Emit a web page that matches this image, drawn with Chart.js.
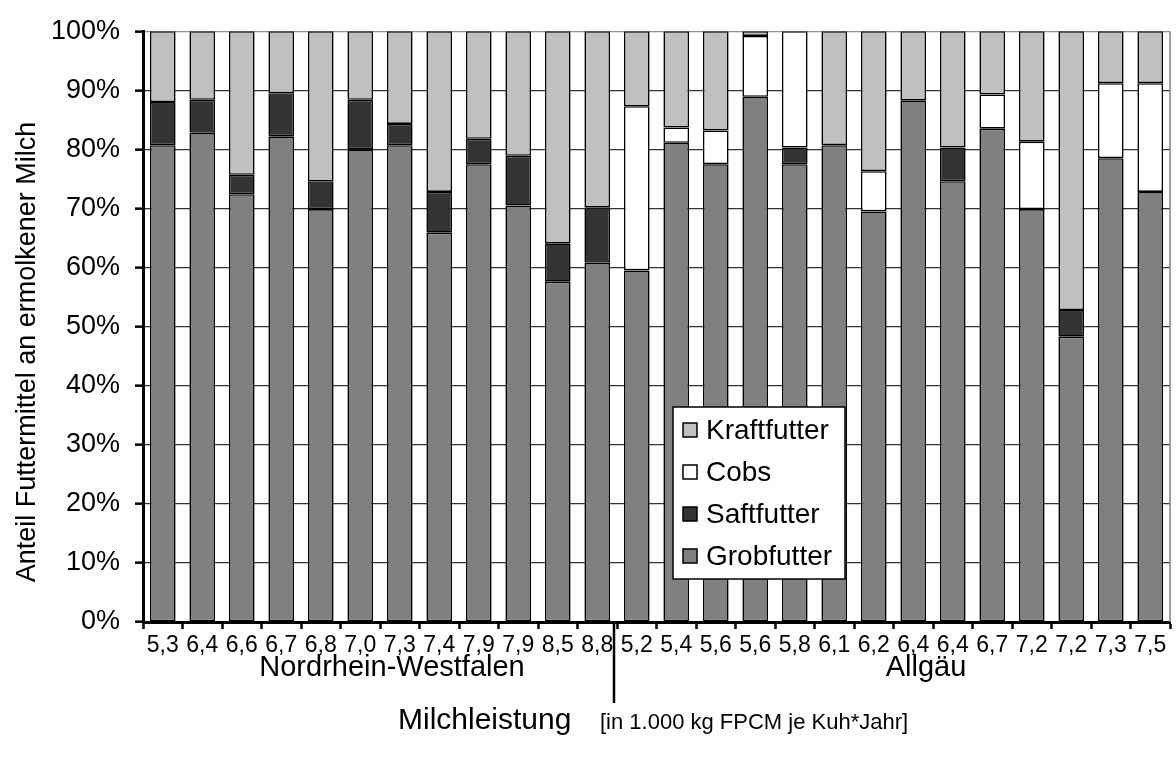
<!DOCTYPE html>
<html>
<head>
<meta charset="utf-8">
<script src="https://cdn.jsdelivr.net/npm/chart.js@4.4.1/dist/chart.umd.min.js"></script>
<style>
  html, body { margin: 0; padding: 0; background: #fff; }
  #wrap { width: 1176px; height: 758px; }
</style>
</head>
<body>
<div id="wrap"><canvas id="chart" width="1176" height="758"></canvas></div>
<script>
// Milchleistung je Betrieb (1.000 kg FPCM), 12 Betriebe NRW + 14 Betriebe Allgäu
let categories = ['5,3', '6,4', '6,6', '6,7', '6,8', '7,0', '7,3', '7,4', '7,9', '7,9', '8,5', '8,8',
                  '5,2', '5,4', '5,6', '5,6', '5,8', '6,1', '6,2', '6,4', '6,4', '6,7', '7,2', '7,2', '7,3', '7,5'];
let groups = ['Nordrhein-Westfalen', 'Allgäu'];
let nrwCount = 12;

// Anteile in %
let grobfutter  = [80.7, 82.8, 72.4, 82.2, 69.9, 80.0, 80.7, 65.9, 77.5, 70.5, 57.6, 60.8,
                   59.5, 81.1, 77.5, 88.9, 77.5, 80.7, 69.5, 88.3, 74.6, 83.5, 69.9, 48.3, 78.5, 72.8];
let saftfutter  = [7.3, 5.6, 3.3, 7.3, 4.7, 8.4, 3.6, 6.9, 4.3, 8.4, 6.5, 9.4,
                   0, 0, 0, 0, 2.8, 0, 0, 0, 5.7, 0, 0, 4.5, 0, 0];
let cobs        = [0, 0, 0, 0, 0, 0, 0, 0, 0, 0, 0, 0,
                   27.8, 2.6, 5.7, 10.3, 19.7, 0, 6.8, 0, 0, 5.8, 11.4, 0, 12.7, 18.4];
let kraftfutter = [12.0, 11.6, 24.3, 10.5, 25.4, 11.6, 15.7, 27.2, 18.2, 21.1, 35.9, 29.8,
                   12.7, 16.3, 16.8, 0.8, 0, 19.3, 23.7, 11.7, 19.7, 10.7, 18.7, 47.2, 8.8, 8.8];

let yTicks = [0, 10, 20, 30, 40, 50, 60, 70, 80, 90, 100];
let yTitle = 'Anteil Futtermittel an ermolkener Milch';
let xTitle = 'Milchleistung';
let xUnit = '[in 1.000 kg FPCM je Kuh*Jahr]';

const FONT = '"Liberation Sans", Arial, sans-serif';

function ds(label, data, color) {
    return {
        label: label,
        data: data,
        backgroundColor: color,
        borderColor: '#000',
        borderWidth: 1.6,
        borderSkipped: false,
        categoryPercentage: 1,
        barPercentage: 0.65
    };
}

const extras = {
    id: 'extras',
    afterDraw(chart) {
        const { ctx, chartArea, scales } = chart;
        const x = scales.x;
        ctx.save();

        // rechter Rahmen
        ctx.strokeStyle = '#808080';
        ctx.lineWidth = 1.5;
        ctx.beginPath();
        ctx.moveTo(chartArea.right, chartArea.top);
        ctx.lineTo(chartArea.right, chartArea.bottom);
        ctx.stroke();

        // Trennlinie zwischen den Regionen
        let split = (x.getPixelForValue(nrwCount - 1) + x.getPixelForValue(nrwCount)) / 2 - 3;
        ctx.strokeStyle = '#000';
        ctx.lineWidth = 2.5;
        ctx.beginPath();
        ctx.moveTo(split, chartArea.bottom);
        ctx.lineTo(split, chartArea.bottom + 81);
        ctx.stroke();

        ctx.fillStyle = '#000';
        ctx.textBaseline = 'middle';
        ctx.textAlign = 'center';
        ctx.font = '29px ' + FONT;
        ctx.fillText(groups[0], 392, 668);
        ctx.fillText(groups[1], 926, 668);

        // x-Titel
        ctx.textAlign = 'left';
        ctx.textBaseline = 'alphabetic';
        ctx.font = '30px ' + FONT;
        ctx.fillText(xTitle, 398, 729);
        ctx.font = '22px ' + FONT;
        ctx.fillText(xUnit, 600, 729);

        // Legende
        ctx.fillStyle = '#fff';
        ctx.strokeStyle = '#000';
        ctx.lineWidth = 1.5;
        ctx.fillRect(673, 407, 172, 172);
        ctx.strokeRect(673, 407, 172, 172);
        ctx.font = '28px ' + FONT;
        ctx.textBaseline = 'middle';
        let items = chart.data.datasets.slice().reverse();
        items.forEach((d, i) => {
            let cy = 430 + i * 42;
            ctx.fillStyle = d.backgroundColor;
            ctx.fillRect(683, cy - 7, 14, 14);
            ctx.strokeRect(683, cy - 7, 14, 14);
            ctx.fillStyle = '#000';
            ctx.fillText(d.label, 706, cy + 1);
        });

        // y-Titel
        ctx.translate(28, 352);
        ctx.rotate(-Math.PI / 2);
        ctx.textAlign = 'center';
        ctx.font = '27px ' + FONT;
        ctx.fillText(yTitle, 0, 0);

        ctx.restore();
    }
};

new Chart(document.getElementById('chart'), {
    type: 'bar',
    data: {
        labels: categories,
        datasets: [
            ds('Grobfutter', grobfutter, '#808080'),
            ds('Saftfutter', saftfutter, '#333333'),
            ds('Cobs', cobs, '#ffffff'),
            ds('Kraftfutter', kraftfutter, '#c0c0c0')
        ]
    },
    options: {
        responsive: false,
        animation: false,
        devicePixelRatio: 1,
        layout: { padding: { left: 0, top: 22, right: 6, bottom: 0 } },
        plugins: {
            legend: { display: false },
            tooltip: { enabled: false }
        },
        scales: {
            x: {
                stacked: true,
                offset: true,
                grid: {
                    offset: true,
                    drawOnChartArea: false,
                    drawTicks: true,
                    tickLength: 7,
                    tickColor: '#000',
                    tickWidth: 2.5
                },
                border: { color: '#000', width: 3 },
                ticks: {
                    color: '#000',
                    font: { family: FONT, size: 23 },
                    maxRotation: 0,
                    autoSkip: false,
                    padding: 3
                },
                afterFit(s) { s.height = 136; }
            },
            y: {
                stacked: true,
                min: 0,
                max: 100,
                afterBuildTicks(s) { s.ticks = yTicks.map(v => ({ value: v })); },
                grid: {
                    color: ctx => ctx.tick && ctx.tick.value === 100 ? '#909090' : '#333333',
                    lineWidth: 1.3,
                    tickLength: 8,
                    tickColor: '#000',
                    tickWidth: 2.5
                },
                border: { color: '#000', width: 3 },
                ticks: {
                    color: '#000',
                    font: { family: FONT, size: 27 },
                    padding: 15,
                    callback: v => v + '%'
                },
                afterFit(s) { s.width = 143; }
            }
        }
    },
    plugins: [extras]
});
</script>
</body>
</html>
